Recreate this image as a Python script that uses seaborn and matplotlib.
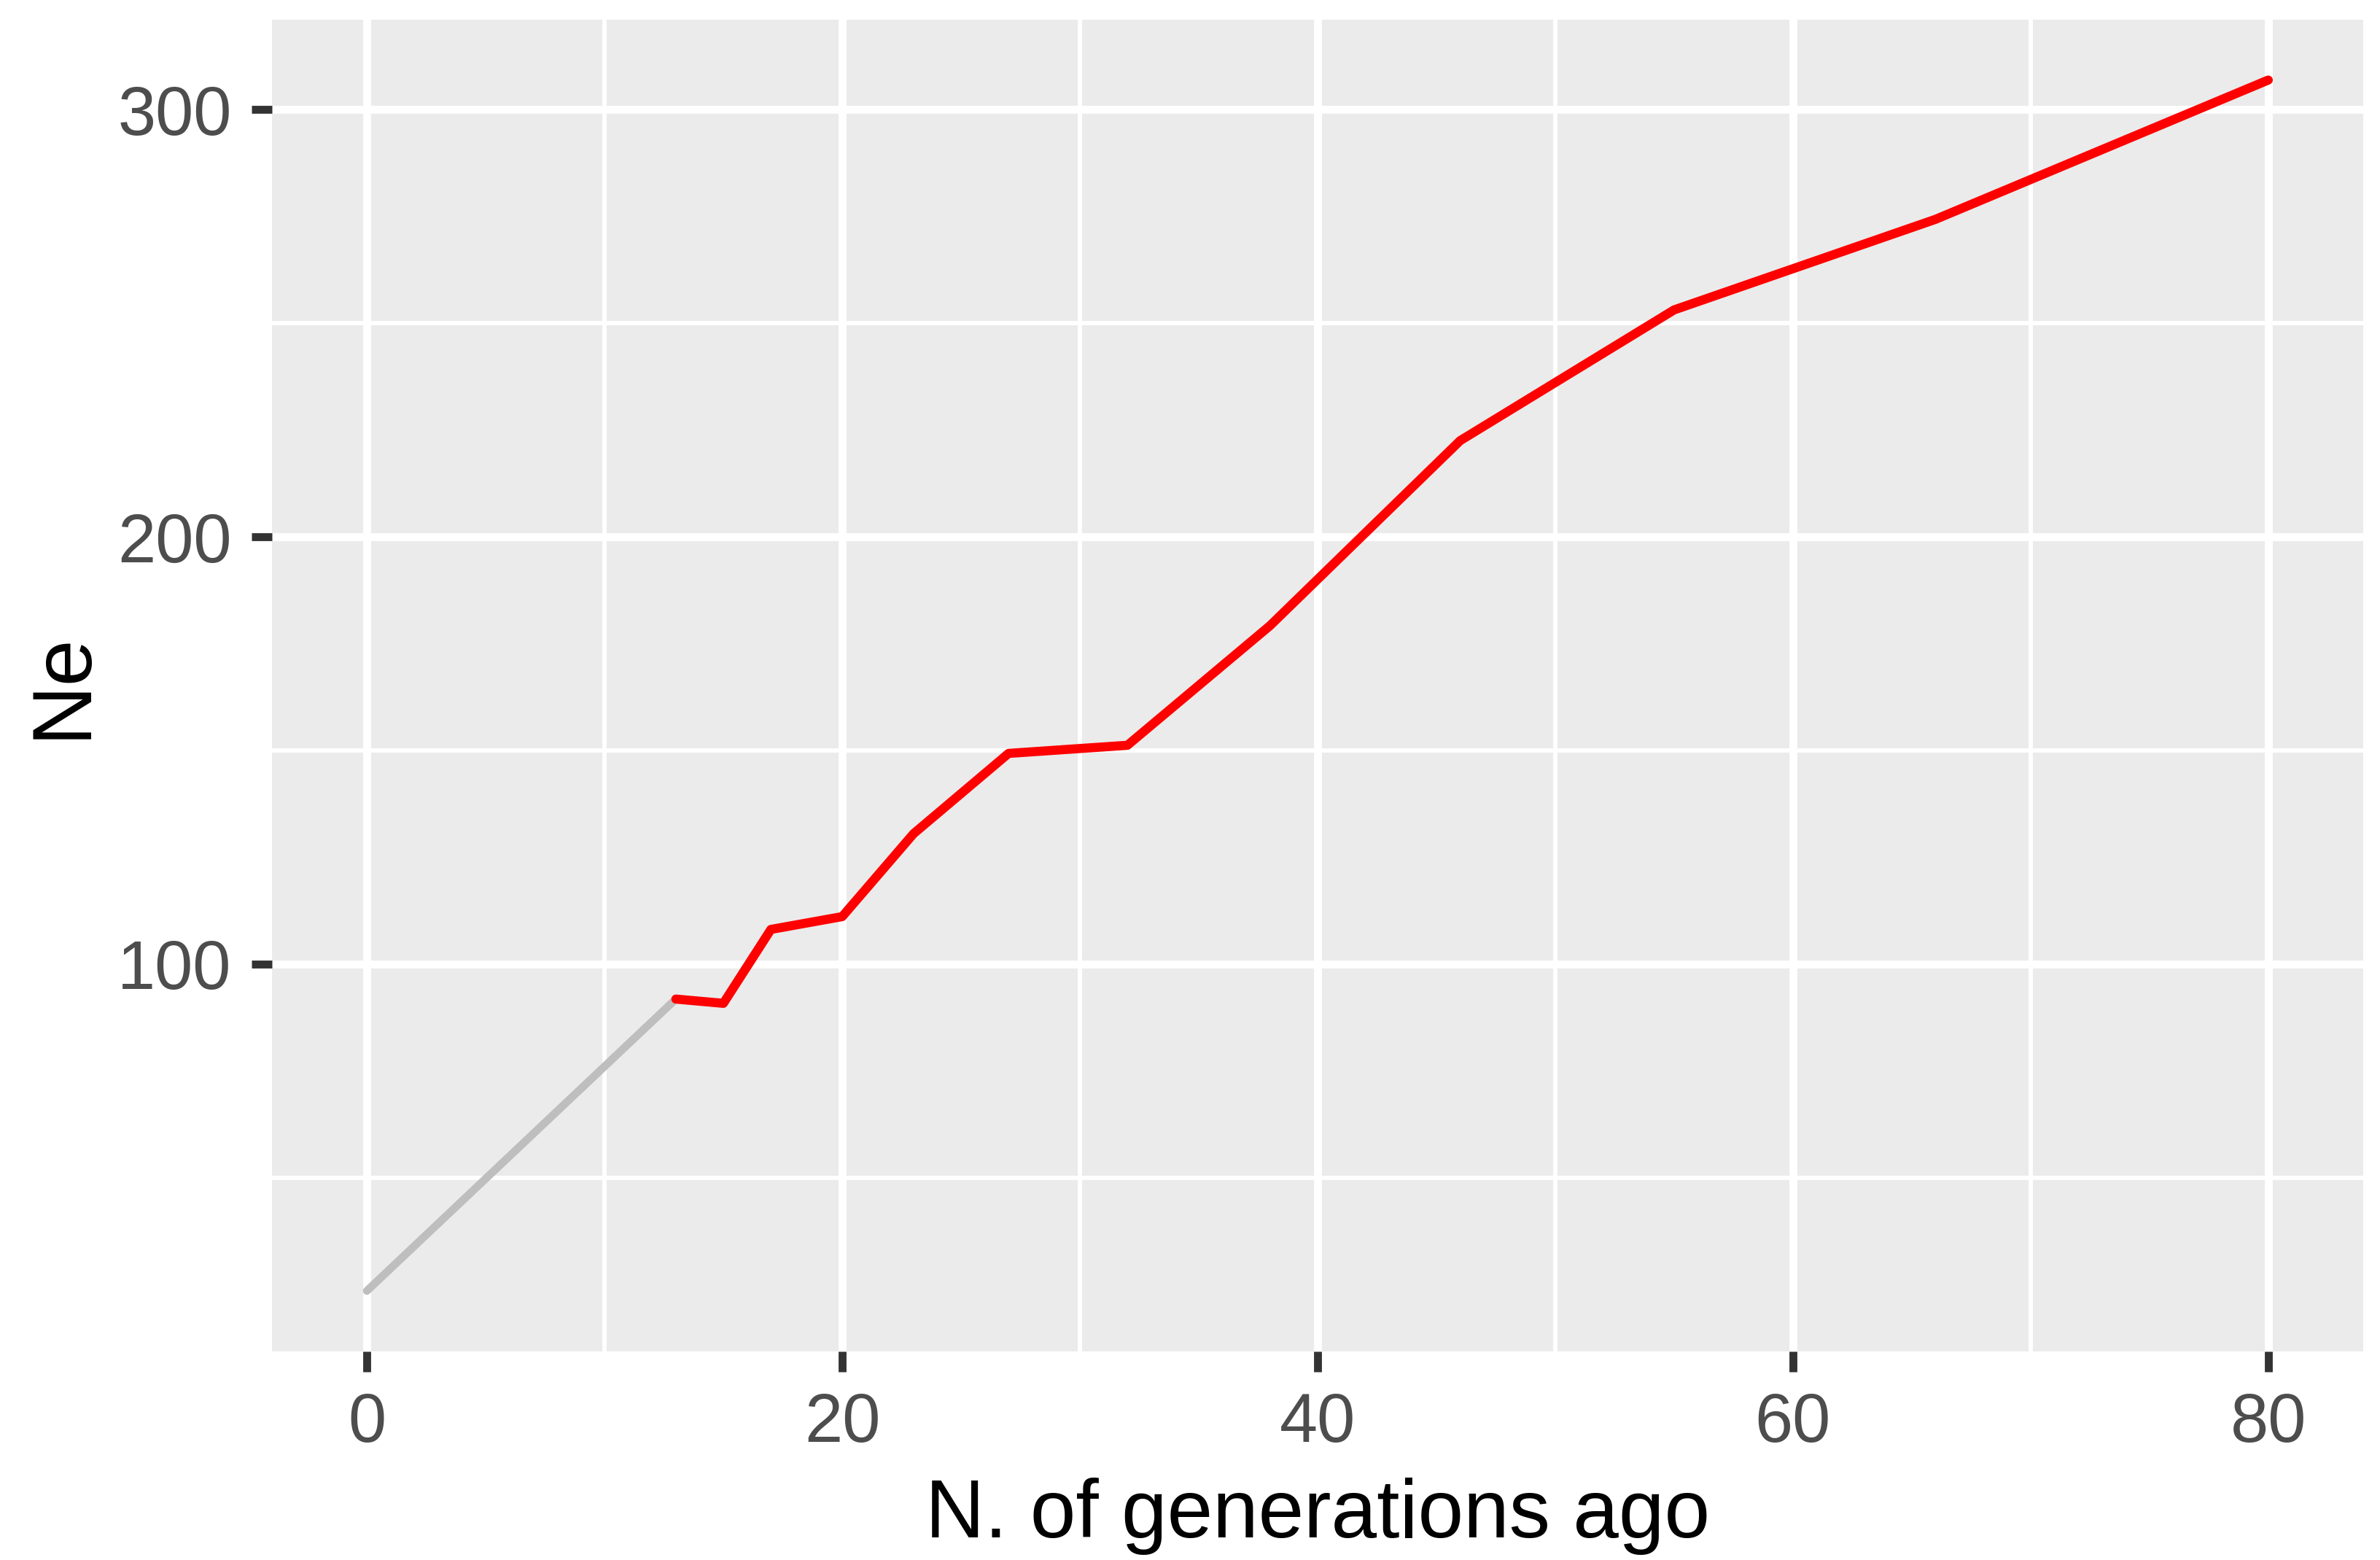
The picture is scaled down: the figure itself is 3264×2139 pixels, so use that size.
#!/usr/bin/env python3

import pandas as pd
import seaborn as sns
import matplotlib.pyplot as plt
from matplotlib.ticker import MultipleLocator

# recent generations (grey) and older estimates (red)
gen_recent = [0, 13]
ne_recent = [23.5, 91.8]

gen_old = [13, 15, 17, 20, 23, 27, 32, 38, 46, 55, 66, 80]
ne_old = [91.8, 90.8, 108.1, 111.1, 130.5, 149.3, 151.2, 179.2, 222.5, 253.1, 274.3, 306.9]


def main():
    df = pd.concat([
        pd.DataFrame({"gen": gen_recent, "ne": ne_recent, "part": "recent"}),
        pd.DataFrame({"gen": gen_old, "ne": ne_old, "part": "old"}),
    ])

    sns.set_style("darkgrid", {"axes.facecolor": "#EBEBEB", "grid.color": "white"})
    plt.rcParams["font.family"] = ["Liberation Sans", "DejaVu Sans"]

    fig = plt.figure(figsize=(10.88, 7.13), dpi=300)
    ax = fig.add_axes([0.1142, 0.1337, 0.993 - 0.1142, 0.9875 - 0.1337])

    sns.lineplot(data=df[df["part"] == "recent"], x="gen", y="ne", color="#BEBEBE",
                 linewidth=2.6, ax=ax, legend=False)
    sns.lineplot(data=df[df["part"] == "old"], x="gen", y="ne", color="#FF0000",
                 linewidth=3.0, ax=ax, legend=False)

    ax.margins(x=0.05, y=0.05)
    ax.xaxis.set_major_locator(MultipleLocator(20))
    ax.xaxis.set_minor_locator(MultipleLocator(10))
    ax.yaxis.set_major_locator(MultipleLocator(100))
    ax.yaxis.set_minor_locator(MultipleLocator(50))

    ax.grid(which="major", color="white", linewidth=2.6)
    ax.grid(which="minor", color="white", linewidth=1.4)
    ax.set_axisbelow(True)
    for s in ax.spines.values():
        s.set_visible(False)

    ax.tick_params(which="major", length=6.7, width=2.6, color="#333333",
                   labelsize=22.5, labelcolor="#4D4D4D", pad=6.5,
                   bottom=True, left=True)
    ax.tick_params(which="minor", length=0)

    ax.set_xlabel("N. of generations ago", fontsize=27, color="black", labelpad=7)
    ax.set_ylabel("Ne", fontsize=27.5, color="black", labelpad=5)

    fig.savefig("out.png", dpi=300)


if __name__ == '__main__':
    main()
